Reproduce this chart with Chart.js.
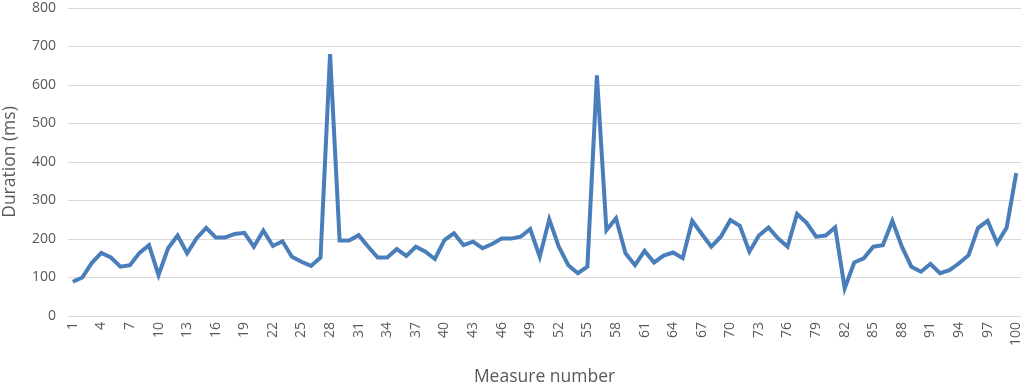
<!DOCTYPE html>
<html>
<head>
<meta charset="utf-8">
<script src="https://cdn.jsdelivr.net/npm/chart.js@4/dist/chart.umd.min.js"></script>
<style>
  html, body { margin: 0; padding: 0; background: #fff; }
  #wrap { width: 1024px; height: 388px; }
</style>
</head>
<body>
<div id="wrap"><canvas id="chart" width="1024" height="388"></canvas></div>
<script>
"use strict";

// measure numbers 1..100
let measures = [];
for (let i = 1; i <= 100; i++) measures.push(String(i));

// durations (ms)
let durations = [
  89, 100, 138, 164, 152, 128, 132, 164, 184, 106,
  176, 209, 163, 202, 229, 204, 204, 213, 216, 180,
  222, 182, 194, 154, 141, 130, 152, 680, 196, 196,
  210, 180, 152, 152, 174, 156, 180, 167, 148, 197,
  215, 184, 193, 176, 187, 201, 201, 206, 226, 154,
  251, 180, 132, 111, 128, 625, 223, 254, 163, 132,
  169, 139, 157, 165, 150, 247, 213, 180, 206, 249,
  234, 167, 209, 230, 202, 180, 265, 242, 206, 209,
  230, 72, 139, 150, 180, 184, 247, 180, 128, 115,
  135, 111, 119, 137, 158, 229, 247, 189, 230, 371
];

let yTicks = [0, 100, 200, 300, 400, 500, 600, 700, 800];

let grey = "#595959";
let font = "'Open Sans', 'Liberation Sans', sans-serif";

let canvas = document.getElementById("chart");

let lineChart = new Chart(canvas, {
  type: "line",
  data: {
    labels: measures,
    datasets: [
      {
        label: "Duration",
        data: durations,
        borderColor: "#4a7ebb",
        borderWidth: 4,
        pointRadius: 0,
        tension: 0,
        fill: false,
        borderJoinStyle: "miter",
      },
    ],
  },
  options: {
    responsive: false,
    animation: false,
    layout: { padding: { left: 0, right: 3, top: 8, bottom: 0 } },
    plugins: {
      legend: { display: false },
      tooltip: { enabled: false },
    },
    scales: {
      x: {
        offset: true,
        grid: { display: false, drawTicks: false },
        border: { display: false },
        ticks: {
          autoSkip: false,
          minRotation: 90,
          maxRotation: 90,
          padding: 6,
          color: grey,
          font: { family: font, size: 14 },
          callback: function (val, idx) {
            return idx % 3 === 0 ? measures[idx] : "";
          },
        },
        title: {
          display: true,
          text: "Measure number",
          color: grey,
          font: { family: font, size: 17.5 },
          padding: { top: 0, bottom: 0 },
        },
        afterFit: function (axis) {
          axis.height = 72;
          axis.paddingLeft = 0;
          axis.paddingRight = 0;
        },
      },
      y: {
        min: 0,
        max: 800,
        afterBuildTicks: function (axis) {
          axis.ticks = yTicks.map((v) => ({ value: v }));
        },
        grid: { color: "#d9d9d9", lineWidth: 1, drawTicks: false },
        border: { display: false },
        ticks: {
          padding: 12,
          color: grey,
          font: { family: font, size: 14 },
        },
        title: {
          display: true,
          text: "Duration (ms)",
          color: grey,
          font: { family: font, size: 17.5 },
          padding: { top: 0, bottom: 3 },
        },
        afterFit: function (axis) {
          axis.width = 68;
          axis.paddingTop = 0;
          axis.paddingBottom = 0;
        },
      },
    },
  },
});
</script>
</body>
</html>
